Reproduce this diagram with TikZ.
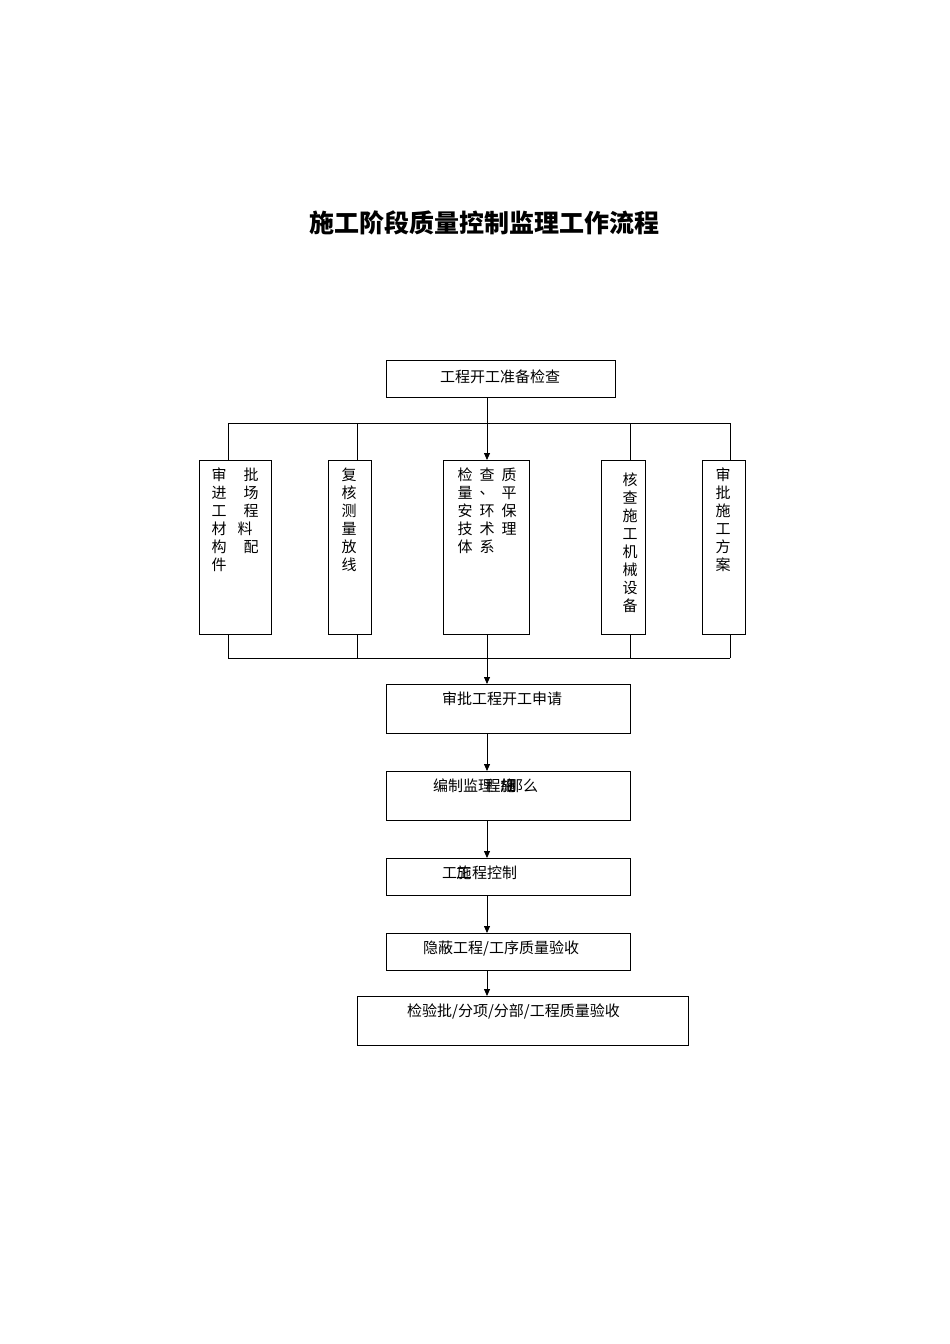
\documentclass[tikz,border=0pt]{standalone}
\usepackage{fontspec}
\newfontfamily\cjk{Noto Sans CJK SC}
\usetikzlibrary{arrows.meta}
\begin{document}
\begin{tikzpicture}[x=1pt,y=-1pt,
  box/.style={draw,line width=0.8pt},
  t/.style={font=\cjk\fontsize{15}{15}\selectfont,inner sep=0pt},
  ln/.style={line width=0.8pt},
  ar/.style={line width=0.8pt,-{Triangle[length=7pt,width=6pt]}}]
\useasboundingbox (0,0) rectangle (950,1344);
\node[font=\cjk\bfseries\fontsize{25}{25}\selectfont,inner sep=0pt] (title) at (484,223) {施工阶段质量控制监理工作流程};
% top
\draw[box] (386,360) rectangle (615,397);
\node[t] (top) at (500,377) {工程开工准备检查};
\coordinate (tb) at (487,397);
\coordinate (bus) at (487,423);
\draw[ln] (tb) -- (bus);
\draw[ln] (228,423) -- (730,423);
\foreach \x in {228,357,630,730} \draw[ln] (\x,423) -- (\x,460);
\draw[ar] (bus) -- (487,460);
% tall boxes
\draw[box] (199,460) rectangle (271,634);
\draw[box] (328,460) rectangle (371,634);
\draw[box] (443,460) rectangle (529,634);
\draw[box] (601,460) rectangle (645,634);
\draw[box] (702,460) rectangle (745,634);
\foreach \c [count=\i] in {审,进,工,材,构,件} \node[t] at (219,457+18*\i) {\c};
\foreach \c [count=\i] in {批,场,程} \node[t] at (251,457+18*\i) {\c};
\node[t] at (245,529) {料};
\node[t] at (251,547) {配};
\foreach \c [count=\i] in {复,核,测,量,放,线} \node[t] at (349,457+18*\i) {\c};
\foreach \c [count=\i] in {检,量,安,技,体} \node[t] at (465,457+18*\i) {\c};
\foreach \c [count=\i] in {查,、,环,术,系} \node[t] at (487,457+18*\i) {\c};
\foreach \c [count=\i] in {质,平,保,理} \node[t] at (509,457+18*\i) {\c};
\foreach \c [count=\i] in {核,查,施,工,机,械,设,备} \node[t] at (630,462+18*\i) {\c};
\foreach \c [count=\i] in {审,批,施,工,方,案} \node[t] at (723,457+18*\i) {\c};
% bottom bus
\foreach \x in {228,357,487,630,730} \draw[ln] (\x,634) -- (\x,658);
\draw[ln] (228,658) -- (730,658);
% chain
\draw[box] (386,684) rectangle (630,733);
\node[t,anchor=west] (n1) at (442,699) {审批工程开工申请};
\draw[ar] (487,658) -- (487,684);
\draw[box] (386,771) rectangle (630,820);
\node[t,anchor=west] (n2) at (433,786) {编制监理\hspace{15pt}那么};
\node[t] at (493,786) {程};
\node[t] at (508,786) {施};
\node[t] at (508,786) {細};
\draw[ar] (487,733) -- (487,771);
\draw[box] (386,858) rectangle (630,895);
\node[t,anchor=west] (n3) at (442,873) {工\hspace{15pt}程控制};
\node[t] at (464,873) {施};
\node[t] at (464,873) {工};
\draw[ar] (487,820) -- (487,858);
\draw[box] (386,933) rectangle (630,970);
\node[t,anchor=west] (n4) at (423,948) {隐蔽工程/工序质量验收};
\draw[ar] (487,895) -- (487,933);
\draw[box] (357,996) rectangle (688,1045);
\node[t,anchor=west] (n5) at (407,1011) {检验批/分项/分部/工程质量验收};
\draw[ar] (487,970) -- (487,996);
\end{tikzpicture}
\end{document}
